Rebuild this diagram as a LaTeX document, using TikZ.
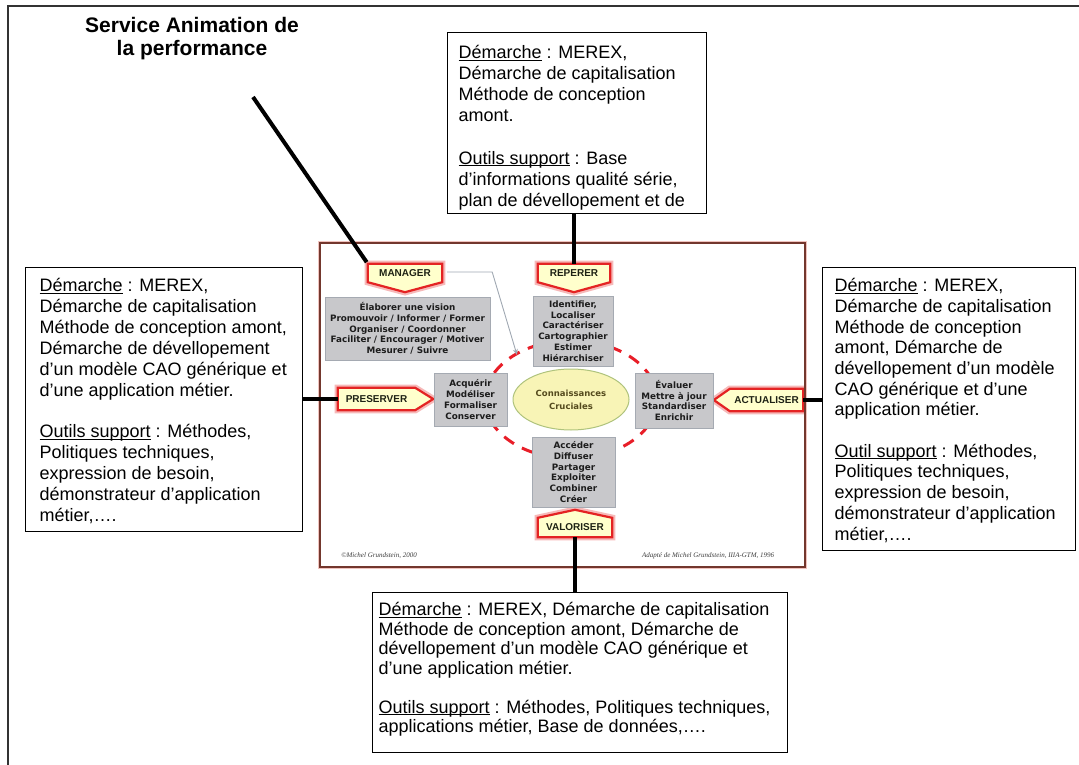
\documentclass[tikz,border=0pt]{standalone}
\usepackage{fontspec}
\setmainfont{Liberation Sans}
\newfontfamily\gboxfont{DejaVu Sans}
\newfontfamily\citefont{Liberation Serif}
\usetikzlibrary{shapes.geometric,arrows.meta,calc,backgrounds}

\definecolor{lblfill}{RGB}{255,255,204}
\definecolor{lblred}{RGB}{228,35,35}
\definecolor{lblglow}{RGB}{246,185,185}
\definecolor{lbltext}{RGB}{30,34,20}
\definecolor{gboxfill}{RGB}{200,200,203}
\definecolor{gboxedge}{RGB}{165,170,178}
\definecolor{gboxtext}{RGB}{28,28,28}
\definecolor{corefill}{RGB}{248,244,182}
\definecolor{coreedge}{RGB}{175,195,125}
\definecolor{coretext}{RGB}{85,75,30}
\definecolor{framebrown}{RGB}{115,55,45}
\definecolor{framepink}{RGB}{240,195,190}
\definecolor{arrowgrey}{RGB}{160,168,178}
\definecolor{dashred}{RGB}{232,30,40}
\definecolor{citegrey}{RGB}{60,60,60}

% underline placed just under the baseline, as in a word processor
\newcommand\dul[1]{\setbox0\hbox{#1}\rlap{\rule[-2pt]{\wd0}{1.1pt}}\box0\relax}

\begin{document}
\begin{tikzpicture}[x=1pt,y=-1pt,
  bigbox/.style={draw=black, line width=1.3pt, fill=white, anchor=north west},
  lbl/.style={inner sep=0pt, font=\bfseries\fontsize{10}{12}\selectfont, text=lbltext},
  lblshape/.style={fill=lblfill, draw=lblred, line width=2.2pt, line join=miter,
    preaction={draw=lblglow, line width=6.5pt, line join=miter}},
  gbox/.style={fill=gboxfill, draw=gboxedge, line width=0.8pt, inner sep=0pt, align=center,
    font=\gboxfont\bfseries\fontsize{8.8}{10.7}\selectfont, text=gboxtext},
  link/.style={line width=4pt, black},
]
\useasboundingbox (0,0) rectangle (1079,765);

% outer frame (open to the right and bottom)
\draw[line width=1.8pt, black!80] (8,765) -- (8,6) -- (1079,6);

% ---------- central figure ----------
\draw[framepink, line width=1.2pt] (318.3,241.3) rectangle (806.7,568.7);
\draw[framebrown, line width=1.2pt] (320,243) rectangle (805,567);

% dashed knowledge cycle around the core
\coordinate (cyc) at (571,399.5);
\draw[dashred, line width=3pt, dash pattern=on 12pt off 9pt] (cyc) ellipse [x radius=86pt, y radius=59pt];

% activity boxes
\node[gbox, minimum width=165pt, minimum height=63pt] (elab) at (407.5,328.5)
  {Élaborer une vision\\Promouvoir / Informer / Former\\Organiser / Coordonner\\Faciliter / Encourager / Motiver\\Mesurer / Suivre};
\node[gbox, minimum width=80pt, minimum height=70pt] (ident) at (573,331)
  {Identifier,\\Localiser\\Caractériser\\Cartographier\\Estimer\\Hiérarchiser};
\node[gbox, minimum width=73pt, minimum height=53pt] (acq) at (470.5,399.5)
  {Acquérir\\Modéliser\\Formaliser\\Conserver};
\node[gbox, minimum width=78pt, minimum height=55pt] (eval) at (674,400.5)
  {Évaluer\\Mettre à jour\\Standardiser\\Enrichir};
\node[gbox, minimum width=83pt, minimum height=70pt] (acc) at (573.5,472)
  {Accéder\\Diffuser\\Partager\\Exploiter\\Combiner\\Créer};

% core
\node[ellipse, fill=corefill, draw=coreedge, line width=1pt, minimum width=116pt, minimum height=61pt,
  inner sep=0pt, align=center, text=coretext,
  font=\gboxfont\bfseries\fontsize{8.5}{13}\selectfont] (core) at (cyc) {Connaissances\\Cruciales};

% action labels
\node[lbl, minimum width=74pt, minimum height=18pt] (mgr) at (405,273) {MANAGER};
\node[lbl, minimum width=72pt, minimum height=18pt] (rep) at (574,273) {REPERER};
\node[lbl, minimum width=77pt, minimum height=22pt] (pres) at (376.5,399) {PRESERVER};
\node[lbl, minimum width=73pt, minimum height=22pt] (act) at (766.5,400) {ACTUALISER};
\node[lbl, minimum width=74pt, minimum height=19pt] (val) at (575,527.5) {VALORISER};

\begin{scope}[on background layer]
  \path[lblshape] (mgr.north west) -- (mgr.north east) -- (mgr.south east) -- ($(mgr.south)+(0,10)$) -- (mgr.south west) -- cycle;
  \path[lblshape] (rep.north west) -- (rep.north east) -- (rep.south east) -- ($(rep.south)+(0,10)$) -- (rep.south west) -- cycle;
  \path[lblshape] (pres.north west) -- (pres.north east) -- ($(pres.east)+(18,0)$) -- (pres.south east) -- (pres.south west) -- cycle;
  \path[lblshape] (act.north west) -- (act.north east) -- (act.south east) -- (act.south west) -- ($(act.west)+(-16,0)$) -- cycle;
  \path[lblshape] (val.north west) -- ($(val.north)+(0,-8)$) -- (val.north east) -- (val.south east) -- (val.south west) -- cycle;
\end{scope}

% manager arrow into the cycle
\coordinate (mgrtip) at (517,355);
\draw[arrowgrey, line width=0.9pt, -{Stealth[length=6pt,width=5pt]}] ($(mgr.east)+(5,-1)$) -- ++(45,0) -- (mgrtip);

% credits
\node[font=\citefont\itshape\fontsize{7}{8}\selectfont, text=citegrey] (credl) at (379,556) {©Michel Grundstein, 2000};
\node[font=\citefont\itshape\fontsize{7}{8}\selectfont, text=citegrey, anchor=west, inner sep=0pt] (credr) at (642,556) {Adapté de Michel Grundstein, IIIA-GTM, 1996};

% ---------- description boxes ----------
\node[font=\bfseries\fontsize{21}{23}\selectfont, align=center] (svc) at (192,39) {Service Animation de\\la performance};
\coordinate (svcfoot) at (253,97);

\node[bigbox, inner xsep=11pt, inner ysep=11.2pt, font=\fontsize{18}{21.1}\selectfont] (topbox) at (447,32)
  {\parbox[c][158.6pt][t]{237pt}{\begin{tabular}[t]{@{}l@{}}
  \dul{Démarche} : MEREX,\\
  Démarche de capitalisation\\
  Méthode de conception\\
  amont.\\
  \\
  \dul{Outils support} : Base\\
  d’informations qualité série,\\
  plan de dévellopement et de
  \end{tabular}}};

\node[bigbox, inner xsep=14pt, inner ysep=9.4pt, font=\fontsize{18}{20.9}\selectfont] (leftbox) at (25,267)
  {\parbox[c][245pt][t]{249pt}{\begin{tabular}[t]{@{}l@{}}
  \dul{Démarche} : MEREX,\\
  Démarche de capitalisation\\
  Méthode de conception amont,\\
  Démarche de dévellopement\\
  d’un modèle CAO générique et\\
  d’une application métier.\\
  \\
  \dul{Outils support} : Méthodes,\\
  Politiques techniques,\\
  expression de besoin,\\
  démonstrateur d’application\\
  métier,….
  \end{tabular}}};

\node[bigbox, inner xsep=12pt, inner ysep=9.5pt, font=\fontsize{18}{20.7}\selectfont] (rightbox) at (822,267)
  {\parbox[c][264pt][t]{229pt}{\begin{tabular}[t]{@{}l@{}}
  \dul{Démarche} : MEREX,\\
  Démarche de capitalisation\\
  Méthode de conception\\
  amont, Démarche de\\
  dévellopement d’un modèle\\
  CAO générique et d’une\\
  application métier.\\
  \\
  \dul{Outil support} : Méthodes,\\
  Politiques techniques,\\
  expression de besoin,\\
  démonstrateur d’application\\
  métier,….
  \end{tabular}}};

\node[bigbox, inner xsep=6pt, inner ysep=9.35pt, font=\fontsize{18}{19.5}\selectfont] (botbox) at (372,592)
  {\parbox[c][141.3pt][t]{403pt}{\begin{tabular}[t]{@{}l@{}}
  \dul{Démarche} : MEREX, Démarche de capitalisation\\
  Méthode de conception amont, Démarche de\\
  dévellopement d’un modèle CAO générique et\\
  d’une application métier.\\
  \\
  \dul{Outils support} : Méthodes, Politiques techniques,\\
  applications métier, Base de données,….
  \end{tabular}}};

% ---------- connectors ----------
\draw[link, shorten >=2pt] (svcfoot) -- (mgr.north west);
\draw[link] (topbox.south -| rep.north) -- (rep.north);
\draw[link] (leftbox.east |- pres.west) -- (pres.west);
\draw[link] (act.east) -- (act.east -| rightbox.west);
\draw[link] (val.south) -- (val.south |- botbox.north);
\end{tikzpicture}
\end{document}
